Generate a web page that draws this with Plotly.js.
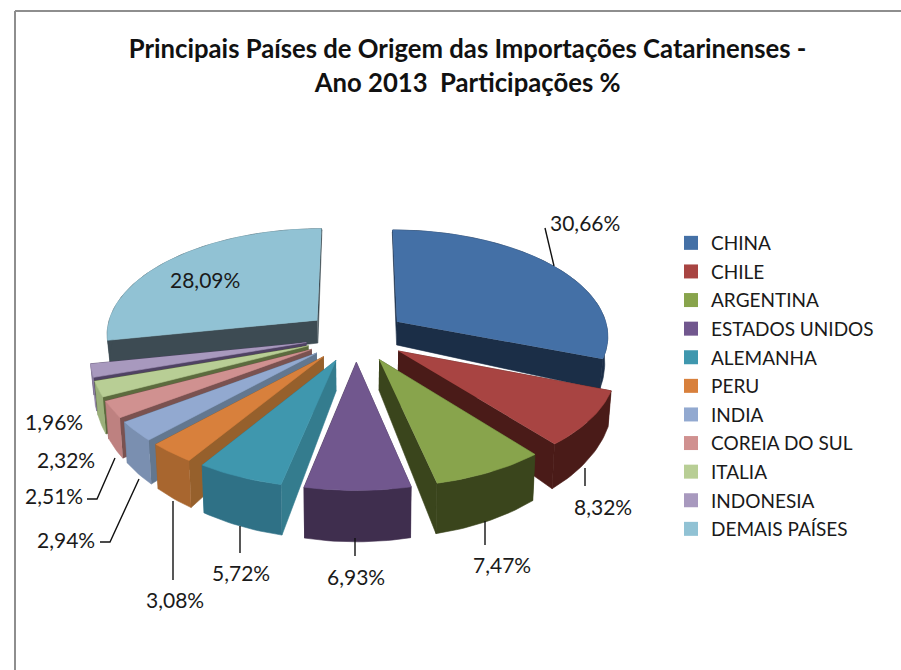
<!DOCTYPE html>
<html>
<head>
<meta charset="utf-8">
<script src="https://cdn.plot.ly/plotly-3.0.1.min.js"></script>
<style>html,body{margin:0;padding:0;background:#fff;overflow:hidden}</style>
</head>
<body>
<div id="chart" style="width:901px;height:670px"></div>
<script>
// ---- data ----
const categories = ['CHINA','CHILE','ARGENTINA','ESTADOS UNIDOS','ALEMANHA','PERU','INDIA','COREIA DO SUL','ITALIA','INDONESIA','DEMAIS PAÍSES'];
const shares = [30.66, 8.32, 7.47, 6.93, 5.72, 3.08, 2.94, 2.51, 2.32, 1.96, 28.09];
const titleText = 'Principais Países de Origem das Importações Catarinenses -<br>Ano 2013  Participações %';

// ---- styles ----
const topColors    = ['#4470A6','#A84442','#88A44C','#71578E','#3F97AE','#D8803C','#92A9D0','#D09190','#B8CE95','#A899BE','#91C2D4'];
const outerColors  = ['#1B2E47','#4A1B18','#3A451C','#3F2E4E','#2F7186','#A8662F','#7A8FB0','#BE8180','#9BB07A','#8D7FA3','#3D4B53'];
const radialColors = ['#1B2E47','#4A1B18','#3A451C','#3F2E4E','#347C8E','#96602C','#63778F','#7A5250','#5C6B3E','#4F4263','#3D4B53'];
const drawOrder = [10,0,9,8,7,6,5,4,1,2,3];

// ---- projection of the tilted pie ----
const CX = 356, CY = 336, AX = 212, RY = 106, PERSP = 0.12, EXPLODE = 0.24;
function project(U, V) {
  const f = 1 / (1 - PERSP * V);
  return [CX + AX * U * f, CY + RY * V * f, V];
}
function lower(p) {
  return [CX + (p[0] - CX) * 0.988, p[1] + 26 + 20.5 * p[2]];
}
function polar(theta, mid, r) {
  const U = EXPLODE * Math.sin(mid) + r * Math.sin(theta);
  const V = -EXPLODE * Math.cos(mid) - r * Math.cos(theta);
  return project(U, V);
}
const total = shares.reduce((a, b) => a + b, 0);
let acc = 0;
const slices = shares.map(v => {
  const a0 = acc / total * 2 * Math.PI; acc += v;
  const a1 = acc / total * 2 * Math.PI;
  return {a0, a1, mid: (a0 + a1) / 2};
});
function poly(pts, color) {
  return {type:'scatter', mode:'lines', x:pts.map(p=>p[0]), y:pts.map(p=>p[1]), fill:'toself',
    fillcolor:color, line:{color:color, width:0.6}, hoverinfo:'skip', showlegend:false};
}
const traces = [];
// legend entries, in data order
categories.forEach((c, i) => traces.push({type:'scatter', mode:'markers', x:[null], y:[null], name:c,
  legendgroup:c, marker:{symbol:'square', size:14, color:topColors[i]}, hoverinfo:'skip'}));
drawOrder.forEach(i => {
  const s = slices[i], arc = [];
  const n = Math.max(6, Math.ceil((s.a1 - s.a0) * 40));
  for (let k = 0; k <= n; k++) arc.push(polar(s.a0 + (s.a1 - s.a0) * k / n, s.mid, 1));
  const apex = polar(s.mid, s.mid, 0);
  const wall = (edge) => [apex, edge, lower(edge), lower(apex)];
  const startWall = wall(arc[0]), endWall = wall(arc[n]);
  const leftSide = s.mid > Math.PI;
  traces.push(poly(leftSide ? endWall : startWall, radialColors[i]));
  traces.push(poly(leftSide ? startWall : endWall, radialColors[i]));
  traces.push(poly(arc.concat(arc.map(lower).reverse()), outerColors[i]));
  traces.push(poly([apex].concat(arc), topColors[i]));
});

// ---- data labels and leader lines ----
const labelAt = [[585,222],[603,506],[502,564],[356,576],[241,572],[175,599],[66,539],[54,495],[66,459],[54,421],[205,279]];
const leaders = [
  [[545,228],[554,266]], [[585,468],[585,486]], [[485,521],[485,545]], [[355,538],[355,556]],
  [[240,526],[240,553]], [[173,501],[173,580]], [[139,479],[110,542],[100,542]], [[115,458],[97,499],[87,499]]
];
leaders.forEach(l => traces.push({type:'scatter', mode:'lines', x:l.map(p=>p[0]), y:l.map(p=>p[1]),
  line:{color:'#111', width:1.4}, hoverinfo:'skip', showlegend:false}));
const annotations = shares.map((v, i) => ({
  x: labelAt[i][0], y: labelAt[i][1], xref:'x', yref:'y', showarrow:false,
  text: v.toFixed(2).replace('.', ',') + '%',
  font:{family:'Lato, sans-serif', size:21, color:'#1a1a1a'}
}));

const layout = {
  width:901, height:670, autosize:false,
  margin:{l:0, r:0, t:0, b:0, pad:0},
  paper_bgcolor:'#fff', plot_bgcolor:'#fff',
  title:{text:titleText, x:0.519, xanchor:'center', y:0.913, yanchor:'top',
    font:{family:'Lato, sans-serif', size:25.7, color:'#111', weight:700}},
  xaxis:{visible:false, range:[0,901], fixedrange:true},
  yaxis:{visible:false, range:[670,0], fixedrange:true},
  legend:{x:671/901, xanchor:'left', y:1-224/670, yanchor:'top', tracegroupgap:0.9,
    font:{family:'Lato, sans-serif', size:19, color:'#1a1a1a'}, bgcolor:'rgba(0,0,0,0)',
    itemclick:false, itemdoubleclick:false},
  shapes:[{type:'line', xref:'paper', yref:'paper', x0:15/901, x1:15/901, y0:0, y1:1-11/670, line:{color:'#8e8e8e', width:2}},
          {type:'line', xref:'paper', yref:'paper', x0:15/901, x1:1, y0:1-11/670, y1:1-11/670, line:{color:'#8e8e8e', width:2}}],
  annotations
};
Plotly.newPlot('chart', traces, layout, {displayModeBar:false, staticPlot:true});
</script>
</body>
</html>
